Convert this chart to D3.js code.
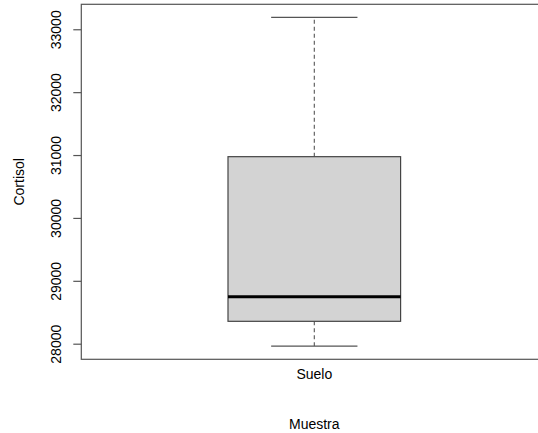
<!DOCTYPE html>
<html>
<head>
<meta charset="utf-8">
<script src="https://cdn.jsdelivr.net/npm/d3@7"></script>
<style>
  html, body { margin: 0; padding: 0; background: #fff; }
  svg { display: block; }
  text { font-family: "Liberation Sans", Arial, Helvetica, sans-serif; fill: #000; }
</style>
</head>
<body>
<svg id="chart" width="538" height="433"></svg>
<script>
// Five-number summary of cortisol per sample group
const groups = ["Suelo"];
const lowerWhisker = [27963];
const q1 = [28356];
const median = [28747];
const q3 = [30974];
const upperWhisker = [33190];
const yTicks = [28000, 29000, 30000, 31000, 32000, 33000];

const xTitle = "Muestra";
const yTitle = "Cortisol";

const svg = d3.select("#chart");

// Plot region (the frame runs off the right edge of the canvas)
const plotLeft = 81.3, plotRight = 547.3, plotTop = 4.3, plotBottom = 359.3;

const y = d3.scaleLinear().domain([27752, 33397]).range([plotBottom, plotTop]);
const x = d3.scaleLinear().domain([0.46, 1.54]).range([plotLeft, plotRight]);
const boxWidth = 0.4, capWidth = 0.2;
const fontSize = "14px";

// Frame around the plot
svg.append("rect")
  .attr("x", plotLeft).attr("y", plotTop)
  .attr("width", plotRight - plotLeft).attr("height", plotBottom - plotTop)
  .attr("fill", "none").attr("stroke", "#555").attr("stroke-width", 1.2);

// Y axis
const yAxis = svg.append("g").attr("transform", `translate(${plotLeft},0)`)
  .call(d3.axisLeft(y).tickValues(yTicks).tickSize(8).tickFormat(d3.format("d")));
yAxis.select(".domain").remove();
yAxis.selectAll(".tick line").attr("stroke", "#555").attr("stroke-width", 1.2);
yAxis.selectAll(".tick text")
  .attr("transform", "rotate(-90)")
  .attr("x", 0).attr("y", -25.5)
  .attr("dy", "0.35em")
  .attr("text-anchor", "middle")
  .style("font-size", fontSize)
  .style("font-family", "'Liberation Sans', Arial, sans-serif")
  .attr("fill", "#222");

// X axis category labels
svg.append("g").selectAll("text").data(groups).join("text")
  .attr("x", (d, i) => x(i + 1))
  .attr("y", 378.5)
  .attr("text-anchor", "middle")
  .style("font-size", fontSize)
  .attr("fill", "#222")
  .text(d => d);

// Boxes
const g = svg.append("g");
groups.forEach((name, i) => {
  const cx = x(i + 1);
  // whiskers (dashed)
  g.append("line")
    .attr("x1", cx).attr("x2", cx)
    .attr("y1", y(q3[i])).attr("y2", y(upperWhisker[i]))
    .attr("stroke", "#555").attr("stroke-width", 1.1).attr("stroke-dasharray", "4,3");
  g.append("line")
    .attr("x1", cx).attr("x2", cx)
    .attr("y1", y(q1[i])).attr("y2", y(lowerWhisker[i]))
    .attr("stroke", "#555").attr("stroke-width", 1.1).attr("stroke-dasharray", "4,3");
  // caps
  [upperWhisker[i], lowerWhisker[i]].forEach(v => {
    g.append("line")
      .attr("x1", x(i + 1 - capWidth / 2)).attr("x2", x(i + 1 + capWidth / 2))
      .attr("y1", y(v)).attr("y2", y(v))
      .attr("stroke", "#555").attr("stroke-width", 1.2);
  });
  // box
  g.append("rect")
    .attr("x", x(i + 1 - boxWidth / 2))
    .attr("y", y(q3[i]))
    .attr("width", x(i + 1 + boxWidth / 2) - x(i + 1 - boxWidth / 2))
    .attr("height", y(q1[i]) - y(q3[i]))
    .attr("fill", "#d3d3d3").attr("stroke", "#444").attr("stroke-width", 1.2);
  // median
  g.append("line")
    .attr("x1", x(i + 1 - boxWidth / 2)).attr("x2", x(i + 1 + boxWidth / 2))
    .attr("y1", y(median[i])).attr("y2", y(median[i]))
    .attr("stroke", "#000").attr("stroke-width", 3);
});

// Axis titles
svg.append("text")
  .attr("x", x(1)).attr("y", 428.5)
  .attr("text-anchor", "middle")
  .style("font-size", fontSize)
  .attr("fill", "#222")
  .text(xTitle);

svg.append("text")
  .attr("transform", `translate(23.5,${(plotTop + plotBottom) / 2}) rotate(-90)`)
  .attr("text-anchor", "middle")
  .style("font-size", fontSize)
  .attr("fill", "#222")
  .text(yTitle);
</script>
</body>
</html>
